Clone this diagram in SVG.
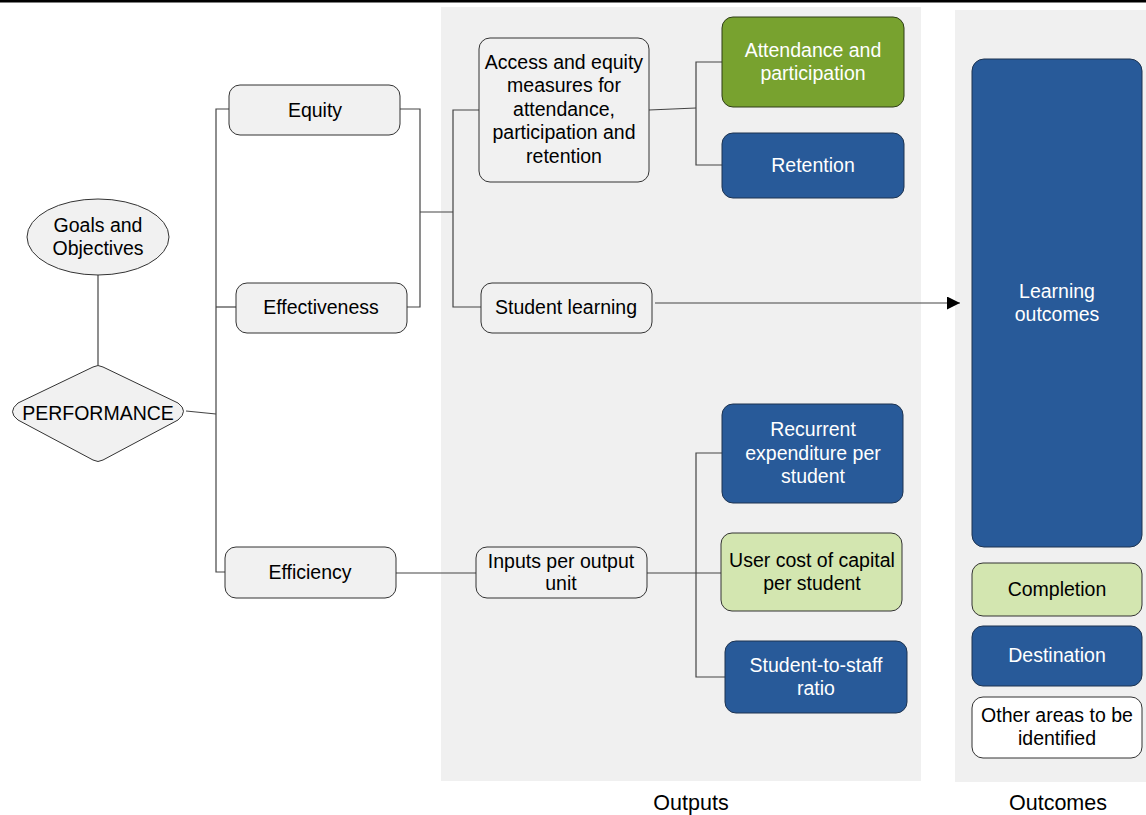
<svg xmlns="http://www.w3.org/2000/svg" width="1146" height="815" viewBox="0 0 1146 815">
<style>
text{font-family:"Liberation Sans",Arial,sans-serif;font-size:19.5px;fill:#000;text-anchor:middle;dominant-baseline:central}
.w{fill:#fff}
.lbl{font-size:21.5px}
.n{fill:#f1f1f1;stroke:#333;stroke-width:1}
.blue{fill:#285a99;stroke:#1d3350;stroke-width:1}
.green{fill:#78a22f;stroke:#2e3d17;stroke-width:1}
.lgreen{fill:#d3e6b0;stroke:#333;stroke-width:1}
.white{fill:#fff;stroke:#333;stroke-width:1}
.c{fill:none;stroke:#444;stroke-width:1.2}
.panel{fill:#f0f0f0}
</style>
<defs>
<marker id="arr" viewBox="0 0 10 10" refX="10" refY="5" markerWidth="20" markerHeight="13" markerUnits="userSpaceOnUse" orient="auto">
<path d="M0,0 L10,5 L0,10 z" fill="#000"/>
</marker>
</defs>
<rect x="0" y="0" width="1146" height="815" fill="#fff"/>
<rect x="0" y="0" width="1146" height="2.5" fill="#000"/>
<g id="panels">
<rect class="panel" x="441" y="7" width="480" height="774"/>
<rect class="panel" x="955" y="10" width="191" height="772"/>
<text class="lbl" x="691" y="803">Outputs</text>
<text class="lbl" x="1058" y="803">Outcomes</text>
</g>
<g id="connectors">
<path class="c" d="M98,275 V365"/>
<path class="c" d="M186,411 L216,414"/>
<path class="c" d="M229,109 H216 V572 H225"/>
<path class="c" d="M216,307 H236"/>
<path class="c" d="M400,109 H420 V307 H407"/>
<path class="c" d="M420,212 H453"/>
<path class="c" d="M479,110 H453 V307 H481"/>
<path class="c" d="M649,110 L696,108"/>
<path class="c" d="M722,62 H696 V165 H722"/>
<path class="c" d="M655,303 H960" stroke="#000" marker-end="url(#arr)"/>
<path class="c" d="M396,573 H476"/>
<path class="c" d="M647,573 H721" stroke="#222" stroke-width="2"/>
<path class="c" d="M722,453 H696 V677 H725"/>
</g>
<g id="goals">
<ellipse class="n" cx="98" cy="237" rx="71" ry="38"/>
<text x="98" y="225">Goals and</text>
<text x="98" y="248">Objectives</text>
</g>
<g id="performance">
<path class="n" d="M93,367 Q98,364 103,367 L178,403 Q189,411 178,420 L103,460 Q98,463 93,460 L18,420 Q7,412 18,403 Z"/>
<text x="98" y="413">PERFORMANCE</text>
</g>
<g id="equity">
<rect class="n" x="229" y="85" width="171" height="50" rx="11"/>
<text x="315" y="110">Equity</text>
</g>
<g id="effectiveness">
<rect class="n" x="236" y="283" width="171" height="50" rx="11"/>
<text x="321" y="307">Effectiveness</text>
</g>
<g id="efficiency">
<rect class="n" x="225" y="547" width="171" height="51" rx="11"/>
<text x="310" y="572">Efficiency</text>
</g>
<g id="access">
<rect class="n" x="479" y="38" width="170" height="144" rx="11"/>
<text x="564" y="62">Access and equity</text>
<text x="564" y="85">measures for</text>
<text x="564" y="109">attendance,</text>
<text x="564" y="132">participation and</text>
<text x="564" y="156">retention</text>
</g>
<g id="student-learning">
<rect class="n" x="481" y="283" width="171" height="50" rx="11"/>
<text x="566" y="307">Student learning</text>
</g>
<g id="inputs">
<rect class="n" x="476" y="547" width="171" height="51" rx="11"/>
<text x="561" y="561">Inputs per output</text>
<text x="561" y="583">unit</text>
</g>
<g id="attendance">
<rect class="green" x="722" y="17" width="182" height="90" rx="11"/>
<text class="w" x="813" y="50">Attendance and</text>
<text class="w" x="813" y="73">participation</text>
</g>
<g id="retention">
<rect class="blue" x="722" y="133" width="182" height="65" rx="11"/>
<text class="w" x="813" y="165">Retention</text>
</g>
<g id="recurrent">
<rect class="blue" x="722" y="404" width="181" height="99" rx="11"/>
<text class="w" x="813" y="429">Recurrent</text>
<text class="w" x="813" y="453">expenditure per</text>
<text class="w" x="813" y="476">student</text>
</g>
<g id="user-cost">
<rect class="lgreen" x="721" y="533" width="181" height="78" rx="11"/>
<text x="812" y="560">User cost of capital</text>
<text x="812" y="583">per student</text>
</g>
<g id="staff-ratio">
<rect class="blue" x="725" y="641" width="182" height="72" rx="11"/>
<text class="w" x="816" y="665">Student-to-staff</text>
<text class="w" x="816" y="688">ratio</text>
</g>
<g id="learning-outcomes">
<rect class="blue" x="972" y="59" width="170" height="488" rx="12"/>
<text class="w" x="1057" y="291">Learning</text>
<text class="w" x="1057" y="314">outcomes</text>
</g>
<g id="completion">
<rect class="lgreen" x="972" y="563" width="170" height="53" rx="11"/>
<text x="1057" y="589">Completion</text>
</g>
<g id="destination">
<rect class="blue" x="972" y="626" width="170" height="60" rx="11"/>
<text class="w" x="1057" y="655">Destination</text>
</g>
<g id="other">
<rect class="white" x="972" y="697" width="170" height="61" rx="11"/>
<text x="1057" y="715">Other areas to be</text>
<text x="1057" y="738">identified</text>
</g>
</svg>
